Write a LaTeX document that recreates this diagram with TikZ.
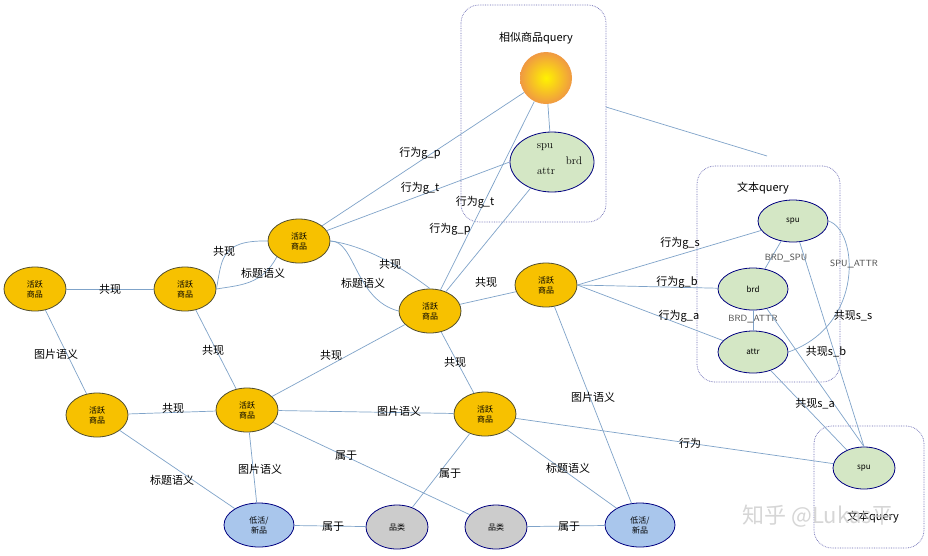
\documentclass[tikz,border=0pt]{standalone}
\usepackage{fontspec}
\newfontfamily\cjk{Noto Sans CJK SC}
\usetikzlibrary{shapes.geometric}
\definecolor{lowblue}{HTML}{A9C6EC}
\definecolor{actyel}{HTML}{F7C100}
\definecolor{grnf}{HTML}{D4E7C5}
\definecolor{edgec}{HTML}{7FA3C9}
\begin{document}
\begin{tikzpicture}[x=1pt,y=-1pt,
 nd/.style={ellipse,draw=black!55!olive,line width=0.8pt,minimum width=62pt,minimum height=44pt,inner sep=0pt,align=center,font=\cjk\fontsize{8}{10}\selectfont},
 act/.style={nd,fill=actyel},
 low/.style={nd,fill=lowblue,draw=black!50!blue,minimum width=70pt},
 cat/.style={nd,fill=black!20,draw=black!50!blue},
 grn/.style={nd,fill=grnf,draw=black!50!blue,minimum width=70pt,minimum height=42pt},
 e/.style={draw=edgec,line width=0.7pt},
 lb/.style={font=\cjk\fontsize{11}{13}\selectfont,inner sep=1pt},
 sl/.style={font=\sffamily\fontsize{9}{11}\selectfont,text=black!70,inner sep=1pt},
 grp/.style={draw=black!50!blue!60,densely dotted,rounded corners=18pt,line width=0.7pt}]
\useasboundingbox (0,0) rectangle (928,555);
\fill[white] (0,0) rectangle (928,555);
% groups
\draw[grp] (461,5) rectangle (606,222);
\draw[grp] (697,166) rectangle (840,382);
\draw[grp] (814,426) rectangle (924,548);
\node[lb] (t1) at (536,38) {相似商品query};
\node[lb] (t2) at (763,188) {文本query};
\node[lb] (t3) at (873,517) {文本query};
% nodes
\node[act] (a1) at (35,289) {活跃\\商品};
\node[act] (a2) at (185,289) {活跃\\商品};
\node[act] (a3) at (299,241) {活跃\\商品};
\node[act] (a4) at (430,311) {活跃\\商品};
\node[act] (a5) at (546,285) {活跃\\商品};
\node[act] (b1) at (97,415) {活跃\\商品};
\node[act] (b2) at (247,410) {活跃\\商品};
\node[act] (b3) at (485,414) {活跃\\商品};
\node[low] (l1) at (259,525) {低活/\\新品};
\node[low] (l2) at (640,525) {低活/\\新品};
\node[cat] (c1) at (397,527) {品类};
\node[cat] (c2) at (496,527) {品类};
\shade[inner color=yellow!90!orange,outer color=orange!70!brown!80!white] (546,78) circle (26);
\node[circle,minimum size=52pt,inner sep=0pt] (ban) at (546,78) {};
\node[grn,minimum width=84pt,minimum height=60pt] (g) at (552,162) {};
\node[font=\fontsize{11}{13}\selectfont] at (545,147) {spu};
\node[font=\fontsize{11}{13}\selectfont] at (574,161) {brd};
\node[font=\fontsize{11}{13}\selectfont] at (546,171) {attr};
\node[grn] (ts) at (793,221) {spu};
\node[grn] (tb) at (753,289) {brd};
\node[grn] (ta) at (753,352) {attr};
\node[grn,minimum width=62pt] (qs) at (864,468) {spu};
% edges
\draw[e] (a1)--(a2); \node[lb] at (110,289) {共现};
\draw[e] (a2.east) .. controls (222,260) and (220,240) .. (a3.west); \node[lb] at (224,251) {共现};
\draw[e] (a2.east) .. controls (240,285) and (262,285) .. (a3.south west); \node[lb] at (263,273) {标题语义};
\draw[e] (a3.east) .. controls (360,245) and (395,262) .. (a4.north); \node[lb] at (390,264) {共现};
\draw[e] (a3.east) .. controls (355,240) and (355,300) .. (a4.west); \node[lb] at (363,283) {标题语义};
\draw[e] (a3)--(ban); \node[lb] at (420,153) {行为g\_p};
\draw[e] (a3)--(g.west); \node[lb] at (420,188) {行为g\_t};
\draw[e] (a4)--(ban); \node[lb] at (450,229) {行为g\_p};
\draw[e] (a4)--(g); \node[lb] at (475,202) {行为g\_t};
\draw[e] (ban)--(g);
\draw[e] (606,107)--(767,156);
\draw[e] (a1)--(b1); \node[lb] at (56,354) {图片语义};
\draw[e] (a2)--(b2); \node[lb] at (213,350) {共现};
\draw[e] (b1)--(b2); \node[lb] at (173,408) {共现};
\draw[e] (b2)--(a4); \node[lb] at (331,355) {共现};
\draw[e] (b2)--(b3); \node[lb] at (399,411) {图片语义};
\draw[e] (b2)--(c2); \node[lb] at (346,456) {属于};
\draw[e] (b2)--(l1); \node[lb] at (260,469) {图片语义};
\draw[e] (b1)--(l1); \node[lb] at (172,480) {标题语义};
\draw[e] (l1)--(c1); \node[lb] at (333,527) {属于};
\draw[e] (b3)--(c1); \node[lb] at (450,474) {属于};
\draw[e] (a4)--(a5); \node[lb] at (486,282) {共现};
\draw[e] (a4)--(b3); \node[lb] at (455,362) {共现};
\draw[e] (a5)--(l2); \node[lb] at (593,397) {图片语义};
\draw[e] (b3)--(l2); \node[lb] at (568,468) {标题语义};
\draw[e] (c2)--(l2); \node[lb] at (569,527) {属于};
\draw[e] (b3)--(qs); \node[lb] at (690,443) {行为};
\draw[e] (a5.east)--(ts); \node[lb] at (680,243) {行为g\_s};
\draw[e] (a5.east)--(tb); \node[lb] at (677,282) {行为g\_b};
\draw[e] (a5.east)--(ta); \node[lb] at (679,316) {行为g\_a};
\draw[e] (ts)--(tb); \node[sl] at (786,258) {BRD\_SPU};
\draw[e] (tb)--(ta); \node[sl] at (753,319) {BRD\_ATTR};
\draw[e] (ts.east) .. controls (858,230) and (865,325) .. (ta.east); \node[sl] at (854,264) {SPU\_ATTR};
\node[lb] at (853,316) {共现s\_s};
\draw[e] (ts)--(qs.north);
\draw[e] (tb)--(qs.north);
\draw[e] (ta)--(qs); \node[lb] at (826,352) {共现s\_b};
\node[lb] at (815,404) {共现s\_a};
\node[font=\cjk\fontsize{22}{24}\selectfont,text=black!20,opacity=0.8] (wm) at (818,516) {知乎 @Lukas平};
\end{tikzpicture}
\end{document}
